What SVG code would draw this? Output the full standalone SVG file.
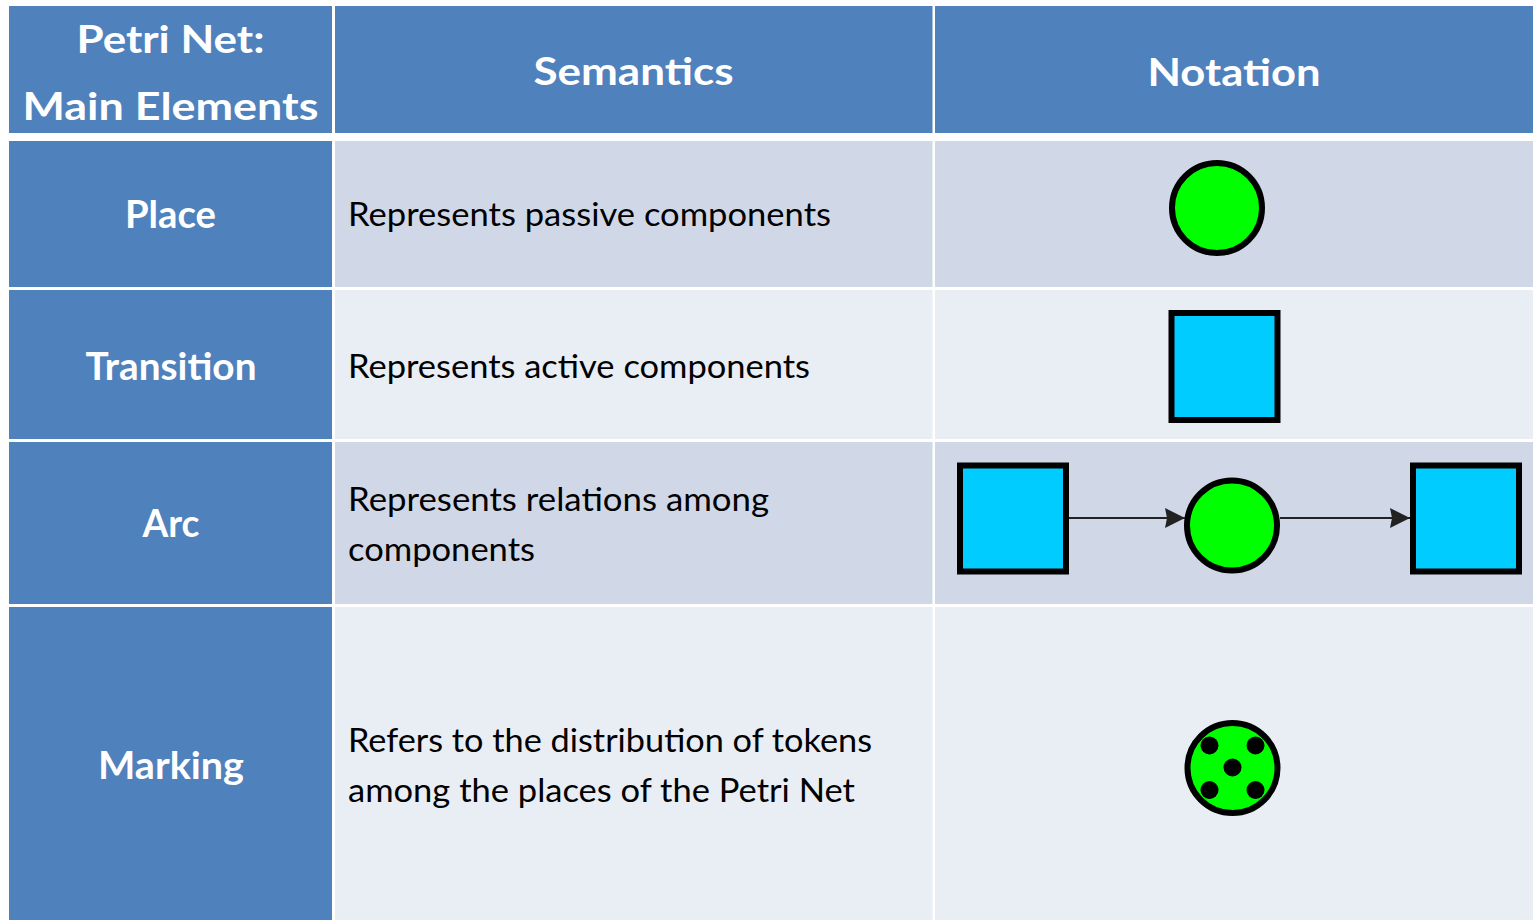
<svg xmlns="http://www.w3.org/2000/svg" width="1536" height="920" viewBox="0 0 1536 920">
  <style>
    .hdr { fill: #4F81BD; }
    .odd { fill: #D0D8E8; }
    .even { fill: #E9EDF4; }
    .ht { font-family: Lato, "Open Sans", sans-serif; font-weight: bold; font-size: 38px; fill: #FFFFFF; text-anchor: middle; }
    .bt { font-family: Lato, "Open Sans", sans-serif; font-size: 33px; fill: #000000; }
    .place { fill: #00FF00; stroke: #000000; stroke-width: 6; }
    .trans { fill: #00CCFF; stroke: #000000; stroke-width: 6; }
    .token { fill: #000000; }
    .arc { stroke: #222222; stroke-width: 2; fill: none; }
  </style>
  <defs>
    <marker id="arrow" markerUnits="userSpaceOnUse" markerWidth="22" markerHeight="22" viewBox="0 0 22 22" refX="21" refY="11" orient="auto">
      <path d="M1,1 L21,11 L1,21 L3,11 Z" fill="#222222"/>
    </marker>
  </defs>
  <rect width="1536" height="920" fill="#FFFFFF"/>

  <g id="header">
    <rect class="hdr" x="9" y="6" width="323" height="127"/>
    <rect class="hdr" x="335" y="6" width="597.5" height="127"/>
    <rect class="hdr" x="935" y="6" width="598" height="127"/>
    <text class="ht" x="170.5" y="53" font-size="40" textLength="188" lengthAdjust="spacingAndGlyphs">Petri Net:</text>
    <text class="ht" x="170.5" y="120" font-size="40" textLength="296" lengthAdjust="spacingAndGlyphs">Main Elements</text>
    <text class="ht" x="633.5" y="85" textLength="200" lengthAdjust="spacingAndGlyphs">Semantics</text>
    <text class="ht" x="1234" y="86" textLength="173" lengthAdjust="spacingAndGlyphs">Notation</text>
  </g>

  <g id="row-place">
    <rect class="hdr" x="9" y="141" width="323" height="146"/>
    <rect class="odd" x="335" y="141" width="597.5" height="146"/>
    <rect class="odd" x="935" y="141" width="598" height="146"/>
    <text class="ht" x="170.5" y="228" textLength="91" lengthAdjust="spacingAndGlyphs">Place</text>
    <text class="bt" x="348" y="226" textLength="483" lengthAdjust="spacingAndGlyphs">Represents passive components</text>
  </g>
  <g id="node-place">
    <circle class="place" cx="1217" cy="208" r="45"/>
  </g>

  <g id="row-transition">
    <rect class="hdr" x="9" y="290" width="323" height="149"/>
    <rect class="even" x="335" y="290" width="597.5" height="149"/>
    <rect class="even" x="935" y="290" width="598" height="149"/>
    <text class="ht" x="171" y="380" textLength="171" lengthAdjust="spacingAndGlyphs">Transition</text>
    <text class="bt" x="348" y="378" textLength="462" lengthAdjust="spacingAndGlyphs">Represents active components</text>
  </g>
  <g id="node-transition">
    <rect class="trans" x="1171.5" y="313" width="106" height="107"/>
  </g>

  <g id="row-arc">
    <rect class="hdr" x="9" y="442" width="323" height="162"/>
    <rect class="odd" x="335" y="442" width="597.5" height="162"/>
    <rect class="odd" x="935" y="442" width="598" height="162"/>
    <text class="ht" x="171" y="537" textLength="57" lengthAdjust="spacingAndGlyphs">Arc</text>
    <text class="bt" x="348" y="511" textLength="421" lengthAdjust="spacingAndGlyphs">Represents relations among</text>
    <text class="bt" x="348" y="561" textLength="187" lengthAdjust="spacingAndGlyphs">components</text>
  </g>
  <g id="node-arc-t1">
    <rect class="trans" x="960" y="465.5" width="106" height="106"/>
  </g>
  <g id="node-arc-p">
    <circle class="place" cx="1232" cy="525.5" r="45"/>
  </g>
  <g id="node-arc-t2">
    <rect class="trans" x="1413" y="465.5" width="106" height="106"/>
  </g>
  <g id="connectors">
    <line class="arc" x1="1069" y1="518" x2="1185" y2="518" marker-end="url(#arrow)"/>
    <line class="arc" x1="1280" y1="518" x2="1410" y2="518" marker-end="url(#arrow)"/>
  </g>

  <g id="row-marking">
    <rect class="hdr" x="9" y="607" width="323" height="313"/>
    <rect class="even" x="335" y="607" width="597.5" height="313"/>
    <rect class="even" x="935" y="607" width="598" height="313"/>
    <text class="ht" x="171" y="779" textLength="146" lengthAdjust="spacingAndGlyphs">Marking</text>
    <text class="bt" x="348" y="752" textLength="524" lengthAdjust="spacingAndGlyphs">Refers to the distribution of tokens</text>
    <text class="bt" x="348" y="802" textLength="507" lengthAdjust="spacingAndGlyphs">among the places of the Petri Net</text>
  </g>
  <g id="node-marking">
    <circle class="place" cx="1232.5" cy="768" r="45"/>
    <circle class="token" cx="1209.5" cy="745.5" r="9"/>
    <circle class="token" cx="1255.5" cy="745.5" r="9"/>
    <circle class="token" cx="1232.5" cy="767.5" r="9"/>
    <circle class="token" cx="1209.5" cy="790" r="9"/>
    <circle class="token" cx="1255.5" cy="790" r="9"/>
  </g>
</svg>
